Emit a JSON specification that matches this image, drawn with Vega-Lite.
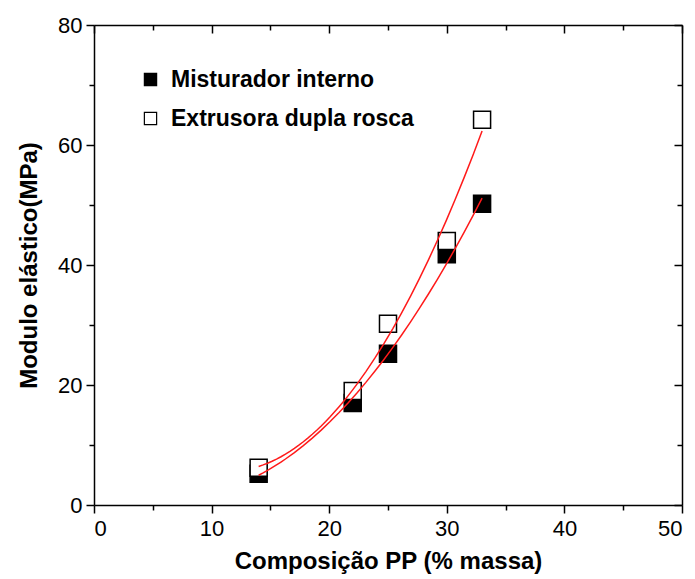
{
  "$schema": "https://vega.github.io/schema/vega-lite/v6.json",
  "width": 588,
  "height": 480,
  "autosize": {"type": "none"},
  "padding": {"left": 94, "top": 25, "right": 13, "bottom": 74},
  "background": "white",
  "config": {
    "view": {"stroke": null},
    "font": "Liberation Sans"
  },
  "data": {
    "values": [
      {"pp": 14, "modulo": 5.2, "series": "Misturador interno"},
      {"pp": 22, "modulo": 17, "series": "Misturador interno"},
      {"pp": 25, "modulo": 25.2, "series": "Misturador interno"},
      {"pp": 30, "modulo": 41.8, "series": "Misturador interno"},
      {"pp": 33, "modulo": 50.2, "series": "Misturador interno"},
      {"pp": 14, "modulo": 6.2, "series": "Extrusora dupla rosca"},
      {"pp": 22, "modulo": 19, "series": "Extrusora dupla rosca"},
      {"pp": 25, "modulo": 30.2, "series": "Extrusora dupla rosca"},
      {"pp": 30, "modulo": 44, "series": "Extrusora dupla rosca"},
      {"pp": 33, "modulo": 64.2, "series": "Extrusora dupla rosca"}
    ]
  },
  "layer": [
    {
      "mark": {"type": "square", "size": 290, "stroke": "black", "strokeWidth": 1.5, "opacity": 1},
      "encoding": {
        "x": {
          "field": "pp", "type": "quantitative",
          "scale": {"domain": [0, 50], "nice": false, "zero": false},
          "axis": {
            "title": "Composição PP (% massa)",
            "titleFont": "Liberation Sans", "titleFontSize": 24, "titleFontWeight": "bold", "titleColor": "black", "titlePadding": 10,
            "values": [0, 5, 10, 15, 20, 25, 30, 35, 40, 45, 50],
            "labelExpr": "datum.value % 10 === 0 ? datum.label : ''",
            "labelFont": "Liberation Sans", "labelFontSize": 22, "labelColor": "black", "labelPadding": 5,
            "tickSize": {"condition": {"test": "datum.value % 10 === 0", "value": 8}, "value": 5},
            "tickColor": "black", "tickWidth": 1.5,
            "domainColor": "black", "domainWidth": 1.5,
            "grid": false
          }
        },
        "y": {
          "field": "modulo", "type": "quantitative",
          "scale": {"domain": [0, 80], "nice": false},
          "axis": {
            "title": "Modulo elástico(MPa)",
            "titleFont": "Liberation Sans", "titleFontSize": 24, "titleFontWeight": "bold", "titleColor": "black", "titlePadding": 16,
            "values": [0, 10, 20, 30, 40, 50, 60, 70, 80],
            "labelExpr": "datum.value % 20 === 0 ? datum.label : ''",
            "labelFont": "Liberation Sans", "labelFontSize": 22, "labelColor": "black", "labelPadding": 4,
            "tickSize": {"condition": {"test": "datum.value % 20 === 0", "value": 8}, "value": 5},
            "tickColor": "black", "tickWidth": 1.5,
            "domainColor": "black", "domainWidth": 1.5,
            "grid": false
          }
        },
        "fill": {
          "field": "series", "type": "nominal",
          "scale": {"domain": ["Misturador interno", "Extrusora dupla rosca"], "range": ["black", "white"]},
          "legend": {
            "title": null,
            "orient": "none",
            "legendX": 45,
            "legendY": 43,
            "symbolType": "square",
            "symbolSize": 150,
            "symbolStrokeColor": "black",
            "symbolStrokeWidth": 1.2,
            "labelFont": "Liberation Sans",
            "labelFontSize": 23,
            "labelFontWeight": "bold",
            "labelColor": "black",
            "labelLimit": 400,
            "rowPadding": 15,
            "labelOffset": 9
          }
        },
        "order": {"field": "series", "sort": "descending"}
      }
    },
    {
      "transform": [
        {"regression": "modulo", "on": "pp", "groupby": ["series"], "method": "poly", "order": 2, "extent": [14, 33]}
      ],
      "mark": {"type": "line", "color": "#ff1a1a", "strokeWidth": 1.5},
      "encoding": {
        "x": {"field": "pp", "type": "quantitative", "scale": {"domain": [0, 50], "nice": false, "zero": false}, "axis": null},
        "y": {"field": "modulo", "type": "quantitative", "scale": {"domain": [0, 80], "nice": false}, "axis": null},
        "detail": {"field": "series", "type": "nominal"}
      }
    },
    {
      "mark": {"type": "point", "opacity": 0},
      "encoding": {
        "x": {
          "field": "pp", "type": "quantitative",
          "scale": {"domain": [0, 50], "nice": false, "zero": false},
          "axis": {
            "orient": "top", "title": null, "labels": false,
            "values": [0, 5, 10, 15, 20, 25, 30, 35, 40, 45, 50],
            "tickSize": {"condition": {"test": "datum.value % 10 === 0", "value": -8}, "value": -5},
            "tickColor": "black", "tickWidth": 1.5,
            "domainColor": "black", "domainWidth": 1.5, "grid": false
          }
        },
        "y": {
          "field": "modulo", "type": "quantitative",
          "scale": {"domain": [0, 80], "nice": false},
          "axis": {
            "orient": "right", "title": null, "labels": false,
            "values": [0, 10, 20, 30, 40, 50, 60, 70, 80],
            "tickSize": {"condition": {"test": "datum.value % 20 === 0", "value": -8}, "value": -5},
            "tickColor": "black", "tickWidth": 1.5,
            "domainColor": "black", "domainWidth": 1.5, "grid": false
          }
        }
      }
    }
  ],
  "resolve": {"scale": {"x": "independent", "y": "independent"}}
}
